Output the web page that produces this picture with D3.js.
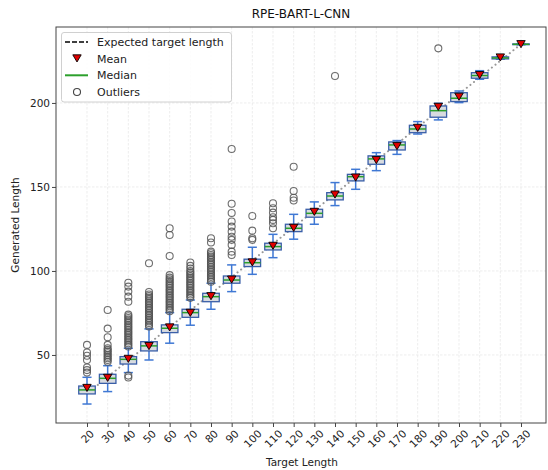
<!DOCTYPE html>
<html>
<head>
<meta charset="utf-8">
<script src="https://cdn.jsdelivr.net/npm/d3@7"></script>
<style>
  html, body { margin: 0; padding: 0; background: #fff; }
  svg { display: block; font-family: "DejaVu Sans", sans-serif; }
</style>
</head>
<body>
<svg id="chart" width="548" height="470"></svg>
<script>
// ---------------- data ----------------
const targets  = [20,30,40,50,60,70,80,90,100,110,120,130,140,150,160,170,180,190,200,210,220,230];
const whiskLo  = [20.8,28.2,39.5,47.0,57.0,67.7,77.2,87.7,98.0,107.9,118.9,127.8,138.9,148.6,159.7,169.4,181.5,189.9,200.2,214.1,226.0,234.6];
const q1       = [26.8,33.1,44.6,52.4,63.3,72.4,81.7,92.7,102.6,112.5,123.4,132.0,142.3,153.6,163.5,172.0,182.3,191.5,200.8,214.7,226.2,234.7];
const medians  = [29.2,36.1,47.4,55.4,65.9,75.2,84.7,94.6,104.9,114.5,125.4,134.3,144.6,156.1,166.7,175.0,184.5,195.4,202.8,216.3,226.8,234.9];
const q3       = [31.5,38.5,49.0,57.9,67.9,77.2,86.7,97.0,107.0,116.5,127.8,136.7,146.6,157.5,168.5,176.8,186.7,198.2,206.1,218.0,227.4,235.1];
const whiskHi  = [36.7,43.6,54.0,65.5,75.2,82.7,92.7,103.6,114.1,121.8,133.7,141.1,152.6,160.5,170.4,177.6,188.9,199.8,207.1,219.2,227.6,235.2];
const means    = [30.5,36.5,47.8,55.4,66.5,75.2,85.1,95.0,105.2,115.1,125.8,135.3,145.6,155.7,166.1,174.4,185.3,197.8,203.8,216.7,227.2,235.1];
const outliers = [
  [56,51.5,49.5,47,42.5,41,39.5],
  [76.8,65.7,60.5,56,54,53,52,51,50,49,48,47,46],
  [93,90.7,87.7,84.7,81.7,74,73,72,71,70,69,68,67,66,65,64,63,62,61,60,59,58,57,56,55,37.7,36.6],
  [104.6,87.5,86,85,84,83,82,81,80,79,78,77,76,75,74,73,72,71,70,69,68,67],
  [125.4,121.4,108.9,97.5,96,95,94,93,92,91,90,89,88,87,86,85,84,83,82,81,80,79,78,77,76],
  [105,103,101.5,100,99,98,97,96,95,94,93,92,91,90,89,88,87,86,85,84],
  [119.5,116.9,111.5,110.5,109.5,108.5,107.5,106.5,105.5,104.5,103.5,102.5,101.5,100.5,99.5,98.5,97.5,96.5,95.5,94.5,93.6],
  [172.6,140,134.5,129.4,126.4,123.4,120.4,118.5,115.5,111.5,109.5],
  [132.7,124,119.5,118.5],
  [140.3,137.3,134.7,132,130.4,128.4,125.4],
  [162,147.6,143.6,141.9],
  [],
  [216],
  [],[],[],[],
  [232.5],
  [],[],[],[]
];
const expectedX = [20, 230];
const expectedY = [27, 235];
const yTicks = [50, 100, 150, 200];

// ---------------- layout ----------------
const L = 56, R = 546, T = 27, B = 423;
const svg = d3.select("#chart");
const x = d3.scaleLinear().domain([5, 242.1]).range([L, R]);
const y = d3.scaleLinear().domain([9.5, 245.2]).range([B, T]);
const FS = 10.5;

// grid
const grid = svg.append("g");
grid.selectAll("line.vx").data(targets).join("line")
  .attr("x1", d => x(d)).attr("x2", d => x(d)).attr("y1", T).attr("y2", B)
  .attr("stroke", "#e8e8e8").attr("stroke-width", 0.8).attr("stroke-dasharray", "2.5,1.5");
grid.selectAll("line.hy").data(yTicks).join("line")
  .attr("x1", L).attr("x2", R).attr("y1", d => y(d)).attr("y2", d => y(d))
  .attr("stroke", "#e8e8e8").attr("stroke-width", 0.8).attr("stroke-dasharray", "2.5,1.5");

// expected line
svg.append("path")
  .datum(expectedX.map((d, i) => [d, expectedY[i]]))
  .attr("d", d3.line().x(d => x(d[0])).y(d => y(d[1])))
  .attr("fill", "none").attr("stroke", "#999").attr("stroke-width", 2)
  .attr("stroke-dasharray", "0.1,4.5").attr("stroke-linecap", "round");

// boxes
const halfBox = 4, halfCap = 2.2;
const wcol = "#3f78d4", bcol = "#3a5fa8";
const g = svg.append("g");
targets.forEach((t, i) => {
  const cx = x(t);
  g.append("line").attr("x1", cx).attr("x2", cx).attr("y1", y(q3[i])).attr("y2", y(whiskHi[i]))
    .attr("stroke", wcol).attr("stroke-width", 1.5);
  g.append("line").attr("x1", cx).attr("x2", cx).attr("y1", y(q1[i])).attr("y2", y(whiskLo[i]))
    .attr("stroke", wcol).attr("stroke-width", 1.5);
  [whiskHi[i], whiskLo[i]].forEach(v => {
    g.append("line").attr("x1", x(t - halfCap)).attr("x2", x(t + halfCap))
      .attr("y1", y(v)).attr("y2", y(v)).attr("stroke", wcol).attr("stroke-width", 1.5);
  });
  g.append("rect").attr("x", x(t - halfBox)).attr("width", x(t + halfBox) - x(t - halfBox))
    .attr("y", y(q3[i])).attr("height", Math.max(0.5, y(q1[i]) - y(q3[i])))
    .attr("fill", "#d8dbe0").attr("stroke", bcol).attr("stroke-width", 1.3);
  g.append("line").attr("x1", x(t - halfBox)).attr("x2", x(t + halfBox))
    .attr("y1", y(medians[i])).attr("y2", y(medians[i]))
    .attr("stroke", "#2ca02c").attr("stroke-width", 1.5);
  outliers[i].forEach(v => {
    g.append("circle").attr("cx", cx).attr("cy", y(v)).attr("r", 3.5)
      .attr("fill", "none").attr("stroke", "#555").attr("stroke-opacity", 0.85).attr("stroke-width", 1.1);
  });
});
const tri = (cx, cy, s) => `M${cx - s},${cy - s * 0.8}L${cx + s},${cy - s * 0.8}L${cx},${cy + s * 0.9}Z`;
g.selectAll("path.mean").data(targets).join("path")
  .attr("d", (t, i) => tri(x(t), y(means[i]), 4.2))
  .attr("fill", "#e00000").attr("stroke", "#000").attr("stroke-width", 0.9);

// frame
svg.append("rect").attr("x", L).attr("y", T).attr("width", R - L).attr("height", B - T)
  .attr("fill", "none").attr("stroke", "#444").attr("stroke-width", 1);

// axes
const gx = svg.append("g").attr("transform", `translate(0,${B})`)
  .call(d3.axisBottom(x).tickValues(targets).tickSize(4).tickSizeOuter(0).tickFormat(d3.format("d")));
gx.select(".domain").remove();
gx.selectAll(".tick line").attr("stroke", "#444");
gx.selectAll("text").attr("font-size", FS).attr("font-family", "DejaVu Sans").attr("fill", "#222")
  .attr("text-anchor", "middle").attr("y", 0).attr("dy", "0.35em")
  .each(function () {
    const w = this.getComputedTextLength();
    const h = FS * 0.75;
    const off = 6 + (w + h) / (2 * Math.SQRT2);
    d3.select(this).attr("transform", `translate(0,${off}) rotate(-45)`);
  });

const gy = svg.append("g").attr("transform", `translate(${L},0)`)
  .call(d3.axisLeft(y).tickValues(yTicks).tickSize(4).tickSizeOuter(0));
gy.select(".domain").remove();
gy.selectAll(".tick line").attr("stroke", "#444");
gy.selectAll("text").attr("font-size", FS).attr("font-family", "DejaVu Sans").attr("fill", "#222").attr("x", -6);

// labels
svg.append("text").attr("x", 301).attr("y", 18).attr("text-anchor", "middle")
  .attr("font-size", 12).attr("fill", "#111").text("RPE-BART-L-CNN");
svg.append("text").attr("x", 302).attr("y", 466).attr("text-anchor", "middle")
  .attr("font-size", FS).attr("fill", "#222").text("Target Length");
svg.append("text").attr("transform", `translate(19,${(T + B) / 2}) rotate(-90)`).attr("text-anchor", "middle")
  .attr("font-size", FS).attr("fill", "#222").text("Generated Length");

// legend
const lg = svg.append("g");
lg.append("rect").attr("x", 61.5).attr("y", 32.5).attr("width", 170).attr("height", 69.5).attr("rx", 2.5)
  .attr("fill", "#fff").attr("fill-opacity", 0.85).attr("stroke", "#d0d0d0");
const rows = [42, 58.7, 75.3, 92];
const labels = ["Expected target length", "Mean", "Median", "Outliers"];
lg.append("line").attr("x1", 65).attr("x2", 88).attr("y1", rows[0]).attr("y2", rows[0])
  .attr("stroke", "#000").attr("stroke-width", 1.5).attr("stroke-dasharray", "5,2");
lg.append("path").attr("d", tri(77, rows[1] - 0.5, 4.2)).attr("fill", "#e00000").attr("stroke", "#000").attr("stroke-width", 0.9);
lg.append("line").attr("x1", 65).attr("x2", 88).attr("y1", rows[2]).attr("y2", rows[2])
  .attr("stroke", "#2ca02c").attr("stroke-width", 2);
lg.append("circle").attr("cx", 77).attr("cy", rows[3]).attr("r", 3.5)
  .attr("fill", "none").attr("stroke", "#444").attr("stroke-width", 1.1);
lg.selectAll("text.lt").data(labels).join("text")
  .attr("x", 97).attr("y", (d, i) => rows[i]).attr("dy", "0.35em")
  .attr("font-size", 11).attr("fill", "#222").text(d => d);
</script>
</body>
</html>
